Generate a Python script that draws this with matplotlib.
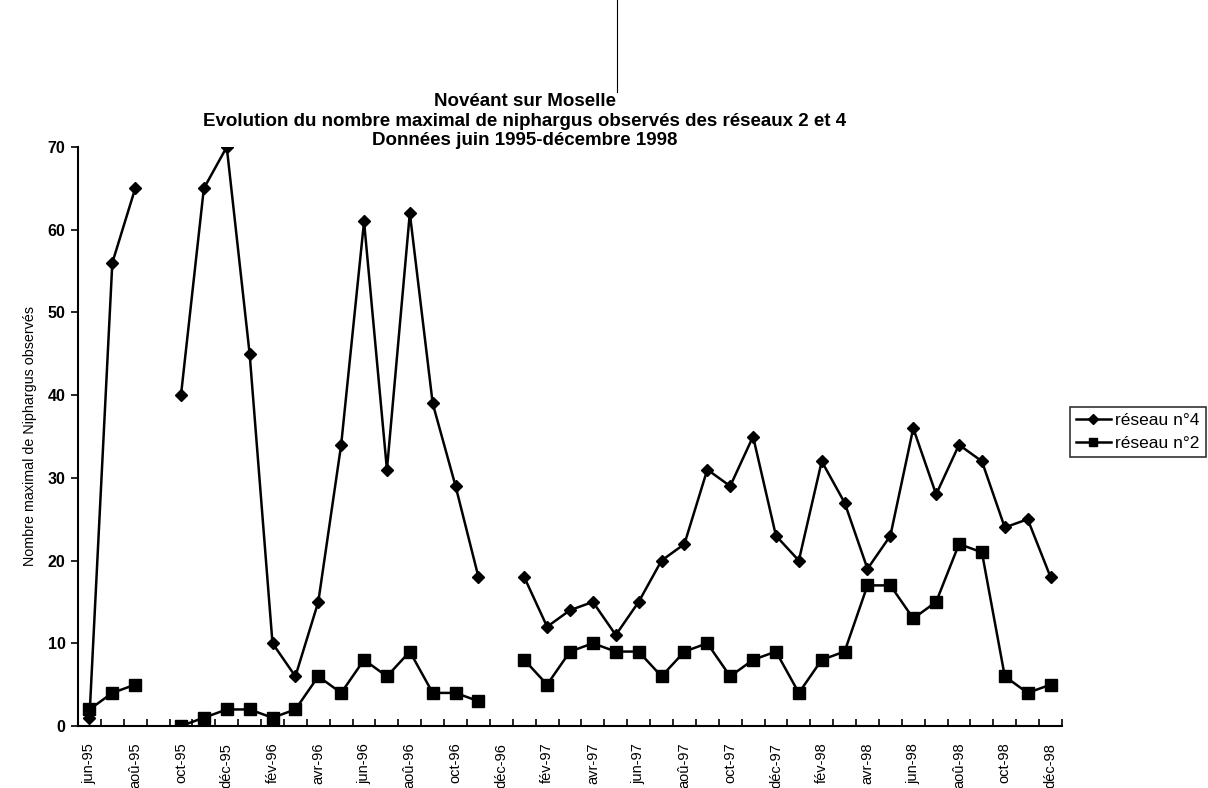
import numpy as np
import matplotlib
matplotlib.use("Agg")
import matplotlib.pyplot as plt
from matplotlib.lines import Line2D

plt.rcParams["font.family"] = ["Liberation Sans", "DejaVu Sans"]

# monthly data, jun-95 .. déc-98 (None = no observation)
reseau4 = [1, 56, 65, None, 40, 65, 70, 45, 10, 6, 15, 34, 61, 31, 62, 39, 29, 18,
           None, 18, 12, 14, 15, 11, 15, 20, 22, 31, 29, 35, 23, 20, 32, 27, 19, 23,
           36, 28, 34, 32, 24, 25, 18]
reseau2 = [2, 4, 5, None, 0, 1, 2, 2, 1, 2, 6, 4, 8, 6, 9, 4, 4, 3,
           None, 8, 5, 9, 10, 9, 9, 6, 9, 10, 6, 8, 9, 4, 8, 9, 17, 17,
           13, 15, 22, 21, 6, 4, 5]
month_names = ["jan", "fév", "mar", "avr", "mai", "jun",
               "jul", "aoû", "sep", "oct", "nov", "déc"]


def month_labels(n):
    labels = []
    for i in range(n):
        m = (5 + i) % 12  # start at june 1995
        yr = 95 + (5 + i) // 12
        labels.append(f"{month_names[m]}-{yr}")
    return labels


def main() -> None:
    n = len(reseau4)
    x = np.arange(n)
    y4 = np.array([np.nan if v is None else v for v in reseau4], dtype=float)
    y2 = np.array([np.nan if v is None else v for v in reseau2], dtype=float)

    fig = plt.figure(figsize=(12.08, 7.88), dpi=100)
    ax = fig.add_axes([78 / 1208, 62 / 788, 984 / 1208, 579 / 788])

    ax.plot(x, y4, color="black", lw=1.8, marker="D", ms=6, label="réseau n°4")
    ax.plot(x, y2, color="black", lw=1.8, marker="s", ms=8, label="réseau n°2")

    ax.set_xlim(-0.5, n - 0.5)
    ax.set_ylim(0, 70)
    ax.set_yticks(range(0, 71, 10))
    ax.tick_params(axis="y", direction="out", length=5, width=1.2, labelsize=11.5, pad=4)
    for t in ax.get_yticklabels():
        t.set_fontweight("bold")

    labels = month_labels(n)
    ax.set_xticks(x[::2])
    ax.set_xticklabels(labels[::2], rotation=90, fontsize=10.5)
    ax.tick_params(axis="x", which="major", length=0, pad=12)
    ax.set_xticks(np.arange(-0.5, n, 1.0), minor=True)
    ax.tick_params(axis="x", which="minor", direction="in", length=5, width=1.2)

    for s in ["top", "right"]:
        ax.spines[s].set_visible(False)
    for s in ["left", "bottom"]:
        ax.spines[s].set_linewidth(1.5)

    ax.set_ylabel("Nombre maximal de Niphargus observés", fontsize=10.3)
    ax.yaxis.set_label_coords(-(78 - 37) / 984, 0.5)

    fig.text(525 / 1208, 1 - 121 / 788,
             "Novéant sur Moselle\n"
             "Evolution du nombre maximal de niphargus observés des réseaux 2 et 4\n"
             "Données juin 1995-décembre 1998",
             ha="center", va="center", fontsize=13.5, fontweight="bold", linespacing=1.22)

    # scan artefact line crossing the title
    fig.add_artist(Line2D([617 / 1208, 617 / 1208], [1.0, 1 - 92 / 788],
                          color="black", lw=0.8))

    leg = ax.legend(loc="upper left", bbox_to_anchor=(1070 / 1208, 1 - 407 / 788),
                    bbox_transform=fig.transFigure, frameon=True, fancybox=False,
                    edgecolor="black", fontsize=12.5, handlelength=2.0,
                    handletextpad=0.25, borderpad=0.35, labelspacing=0.45,
                    borderaxespad=0, markerscale=0.8)
    leg.get_frame().set_linewidth(1.2)

    fig.savefig("out.png", dpi=100)


if __name__ == "__main__":
    main()
